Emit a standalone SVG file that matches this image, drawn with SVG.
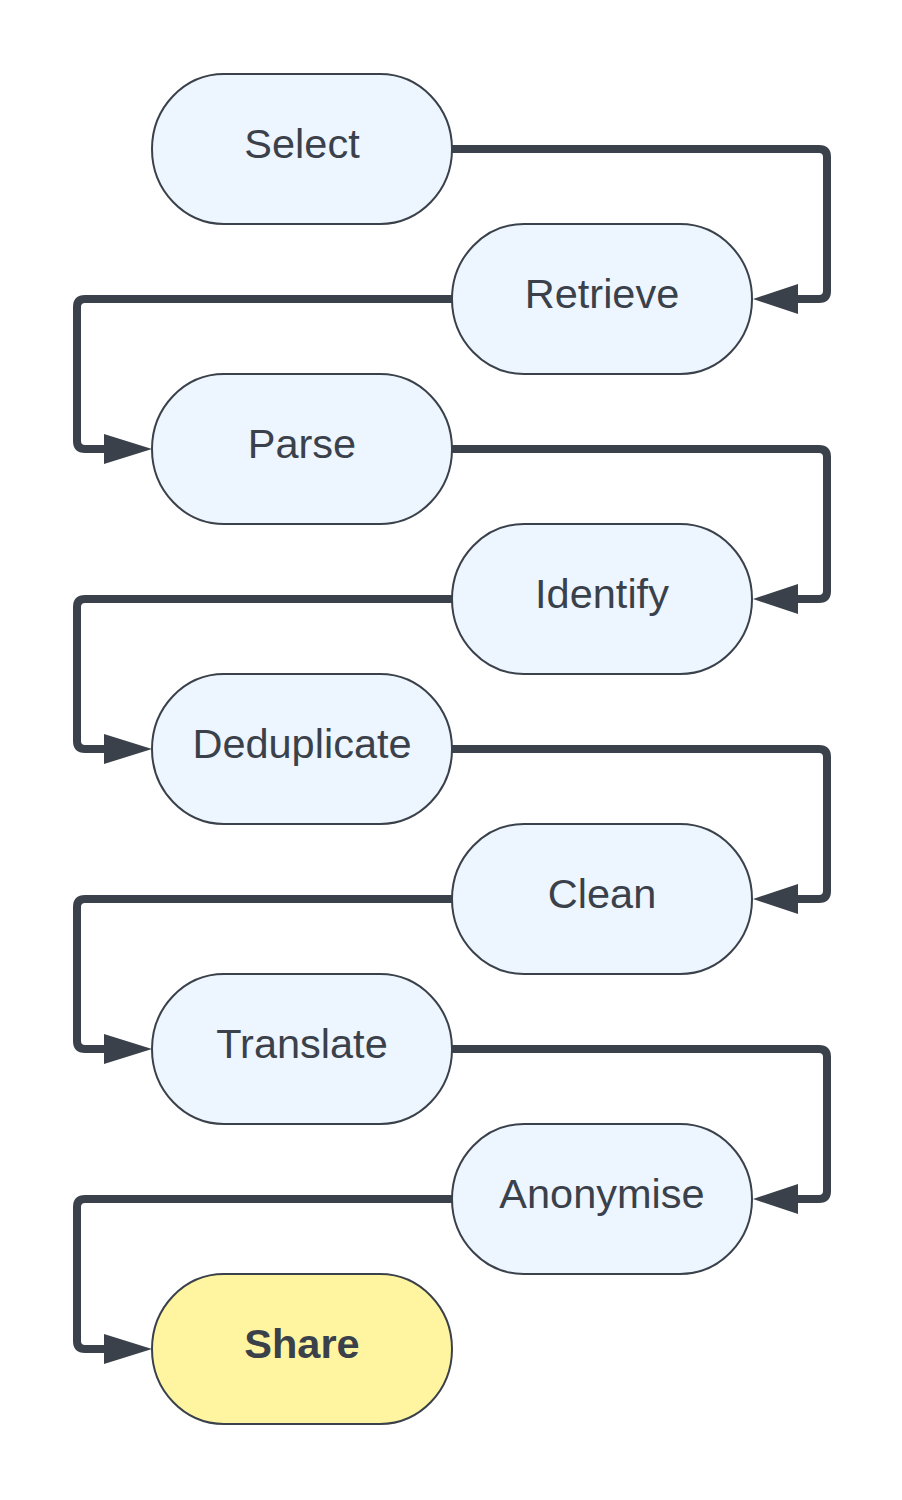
<svg xmlns="http://www.w3.org/2000/svg" width="902" height="1500" viewBox="0 0 902 1500">
<style>
.n{fill:#EDF5FF;stroke:#3A414A;stroke-width:2}
.s{fill:#FFF5A1;stroke:#3A414A;stroke-width:2}
.t{font-family:"Liberation Sans",Arial,sans-serif;font-size:41.5px;fill:#3A414A;text-anchor:middle}
.b{font-weight:bold}
.c{fill:none;stroke:#3A414A;stroke-width:8;stroke-linejoin:round}
.a{fill:#3A414A}
</style>
<rect width="902" height="1500" fill="#FFFFFF"/>
<g id="connectors">
<path class="c" d="M452,149 H819 Q827,149 827,157 V291 Q827,299 819,299 H797"/>
<polygon class="a" points="753,299 798,284 798,314"/>
<path class="c" d="M452,299 H85 Q77,299 77,307 V441 Q77,449 85,449 H105"/>
<polygon class="a" points="152,449 104,434 104,464"/>
<path class="c" d="M452,449 H819 Q827,449 827,457 V591 Q827,599 819,599 H797"/>
<polygon class="a" points="753,599 798,584 798,614"/>
<path class="c" d="M452,599 H85 Q77,599 77,607 V741 Q77,749 85,749 H105"/>
<polygon class="a" points="152,749 104,734 104,764"/>
<path class="c" d="M452,749 H819 Q827,749 827,757 V891 Q827,899 819,899 H797"/>
<polygon class="a" points="753,899 798,884 798,914"/>
<path class="c" d="M452,899 H85 Q77,899 77,907 V1041 Q77,1049 85,1049 H105"/>
<polygon class="a" points="152,1049 104,1034 104,1064"/>
<path class="c" d="M452,1049 H819 Q827,1049 827,1057 V1191 Q827,1199 819,1199 H797"/>
<polygon class="a" points="753,1199 798,1184 798,1214"/>
<path class="c" d="M452,1199 H85 Q77,1199 77,1207 V1341 Q77,1349 85,1349 H105"/>
<polygon class="a" points="152,1349 104,1334 104,1364"/>
</g>
<g id="select"><rect class="n" x="152" y="74" width="300" height="150" rx="72" ry="75"/><text class="t" x="302" y="158">Select</text></g>
<g id="retrieve"><rect class="n" x="452" y="224" width="300" height="150" rx="72" ry="75"/><text class="t" x="602" y="308">Retrieve</text></g>
<g id="parse"><rect class="n" x="152" y="374" width="300" height="150" rx="72" ry="75"/><text class="t" x="302" y="458">Parse</text></g>
<g id="identify"><rect class="n" x="452" y="524" width="300" height="150" rx="72" ry="75"/><text class="t" x="602" y="608">Identify</text></g>
<g id="deduplicate"><rect class="n" x="152" y="674" width="300" height="150" rx="72" ry="75"/><text class="t" x="302" y="758">Deduplicate</text></g>
<g id="clean"><rect class="n" x="452" y="824" width="300" height="150" rx="72" ry="75"/><text class="t" x="602" y="908">Clean</text></g>
<g id="translate"><rect class="n" x="152" y="974" width="300" height="150" rx="72" ry="75"/><text class="t" x="302" y="1058">Translate</text></g>
<g id="anonymise"><rect class="n" x="452" y="1124" width="300" height="150" rx="72" ry="75"/><text class="t" x="602" y="1208">Anonymise</text></g>
<g id="share"><rect class="s" x="152" y="1274" width="300" height="150" rx="72" ry="75"/><text class="t b" x="302" y="1358">Share</text></g>
</svg>
